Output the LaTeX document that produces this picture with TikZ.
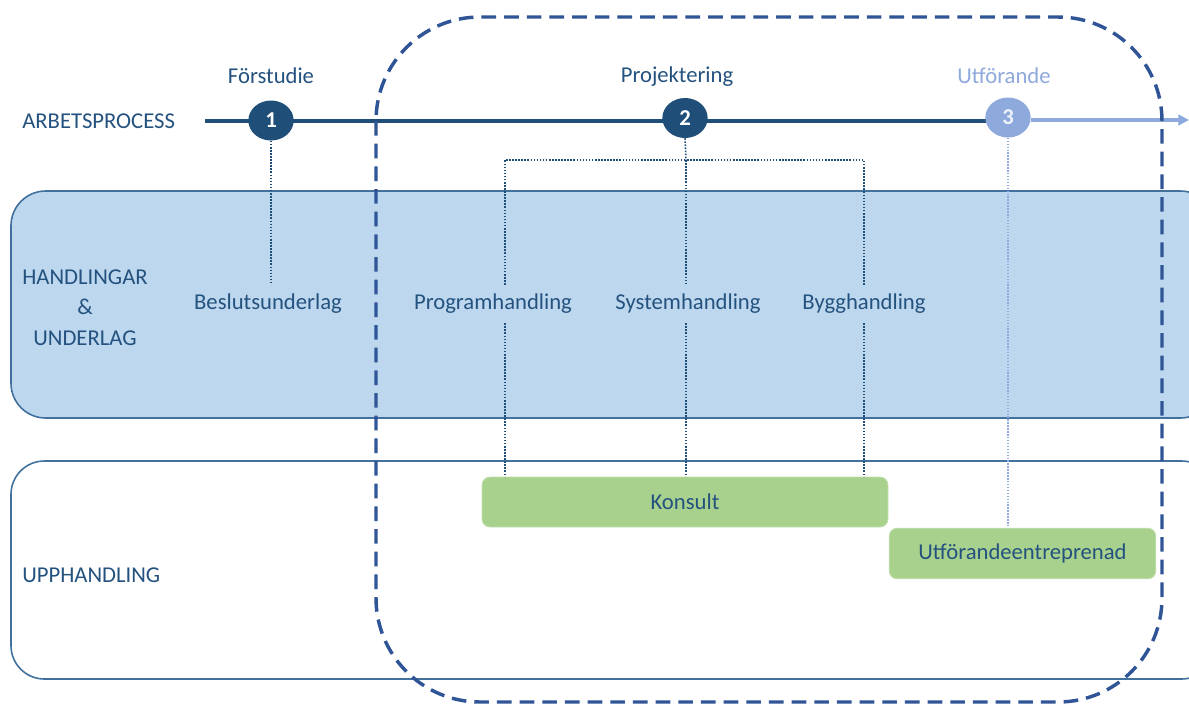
\documentclass[tikz,border=0pt]{standalone}
\usepackage{fontspec}
\setmainfont{Carlito}
\usetikzlibrary{shapes.geometric,arrows.meta}
\definecolor{txt}{HTML}{24527F}
\definecolor{dark}{HTML}{1F4E79}
\definecolor{light}{HTML}{8EA9DB}
\definecolor{bandfill}{HTML}{BDD7EE}
\definecolor{bandline}{HTML}{41719C}
\definecolor{green}{HTML}{A9D18E}
\definecolor{dashc}{HTML}{2F5597}
\tikzset{
  lbl/.style={font=\fontsize{17}{20}\selectfont, text=txt, inner sep=0pt},
  doc/.style={lbl, minimum height=28.5pt},
  stepnum/.style={ellipse, minimum width=34pt, minimum height=30pt, inner sep=0pt, font=\fontsize{17}{20}\selectfont\bfseries},
  dotline/.style={dark, line width=1.2pt, dash pattern=on 1.2pt off 1.1pt},
  greenbox/.style={fill=green, draw=green!70!white, line width=0.6pt, rounded corners=6pt, inner sep=0pt, lbl},
}
\begin{document}
\begin{tikzpicture}[x=0.75pt,y=-0.75pt]
\useasboundingbox (0,0) rectangle (1189,704);
\clip (0,0) rectangle (1189,704);
% bands
\draw[bandline, fill=bandfill, line width=1.2pt, rounded corners=26pt] (11,191) rectangle (1215,418);
\draw[bandline, line width=1.2pt, rounded corners=25pt] (11,461) rectangle (1215,679);
% timeline
\coordinate (tstart) at (205,120.5);
\coordinate (tmid) at (992,120.5);
\coordinate (tend) at (1189,120);
\draw[dark, line width=3pt] (tstart) -- (tmid);
\node[stepnum, fill=dark, text=white] (c1) at (271,120.5) {1};
\node[stepnum, fill=dark, text=white] (c2) at (685,118) {2};
\node[stepnum, fill=light, text=white!85!light] (c3) at (1008,117.5) {3};
\node[lbl, anchor=west] (arb) at (22,121) {ARBETSPROCESS};
\draw[light, line width=2.5pt, -{Triangle[length=8pt,width=8pt]}] (c3.east |- tend) -- (tend);
\node[lbl] (fs) at (271,76) {Förstudie};
\node[lbl] (pj) at (677,77) {Projektering};
\node[lbl, text=light] (uf) at (1004,76) {Utförande};
% labels in band
\node[lbl, align=center] (hu) at (85,307.5) {HANDLINGAR\\[3pt]\&\\[3pt]UNDERLAG};
\node[lbl, anchor=west] (upp) at (22,575) {UPPHANDLING};
\node[doc] (bes) at (268,304) {Beslutsunderlag};
\node[doc] (prog) at (493,304) {Programhandling};
\node[doc] (sys) at (688,304) {Systemhandling};
\node[doc] (bygg) at (864,304) {Bygghandling};
% green boxes
\node[greenbox, minimum width=304.5pt, minimum height=37.5pt] (kons) at (685,502) {Konsult};
\node[greenbox, minimum width=200pt, minimum height=38pt] (utf) at (1022.5,553.5) {Utförandeentreprenad};
% dotted connectors
\coordinate (brL) at (505,160);
\coordinate (brM) at (686,160);
\coordinate (brR) at (864,160);
\draw[dotline] (c1.south) -- (c1.south |- bes.north);
\draw[dotline] (c2.south) -- (brM);
\draw[dotline] (brL |- prog.north) -- (brL) -- (brR) -- (brR |- bygg.north);
\draw[dotline] (brM) -- (brM |- sys.north);
\draw[dotline] (brL |- prog.south) -- (brL |- kons.north);
\draw[dotline] (brM |- sys.south) -- (brM |- kons.north);
\draw[dotline] (brR |- bygg.south) -- (brR |- kons.north);
\draw[light, line width=1.1pt, dash pattern=on 1.1pt off 1.1pt] (c3.south) -- (c3.south |- utf.north);
% dashed frame
\draw[dashc, line width=2.6pt, dash pattern=on 11pt off 6pt, rounded corners=78pt] (376,17) rectangle (1162,702);
\end{tikzpicture}
\end{document}
